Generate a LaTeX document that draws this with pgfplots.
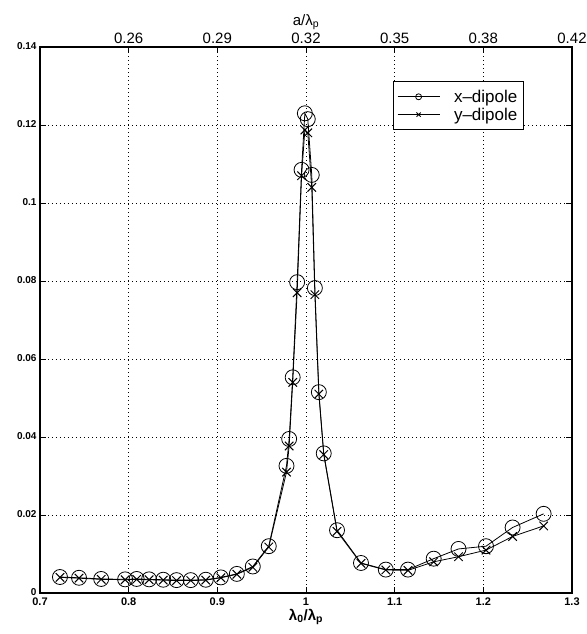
\documentclass[border=0pt]{standalone}
\usepackage{fontspec}
\setmainfont{Liberation Sans}
\usepackage{pgfplots}
\pgfplotsset{compat=1.18}
\usepackage{pgfplotstable}
\usetikzlibrary{calc}

\pgfplotstableread{
x y
0.7225 0.0041
0.744 0.0039
0.769 0.0036
0.796 0.0035
0.809 0.0036
0.823 0.0035
0.839 0.0034
0.854 0.0033
0.870 0.0033
0.887 0.0034
0.904 0.0040
0.922 0.0049
0.940 0.0068
0.958 0.0120
0.978 0.0326
0.981 0.0395
0.985 0.0553
0.990 0.0797
0.995 0.1085
0.9987 0.1230
1.002 0.1215
1.0065 0.1072
1.010 0.0782
1.0145 0.0515
1.020 0.0358
1.035 0.0161
1.062 0.0077
1.090 0.0060
1.115 0.0060
1.144 0.0088
1.172 0.0113
1.203 0.0120
1.233 0.0168
1.268 0.0203
}\xdip

\pgfplotstableread{
x y
0.7225 0.0040
0.744 0.0038
0.769 0.0035
0.796 0.0034
0.809 0.0035
0.823 0.0034
0.839 0.0033
0.854 0.0032
0.870 0.0032
0.887 0.0033
0.904 0.0039
0.922 0.0048
0.940 0.0066
0.958 0.0118
0.978 0.0310
0.981 0.0377
0.985 0.0540
0.990 0.0770
0.995 0.1070
0.9987 0.1187
1.002 0.1180
1.0065 0.1040
1.010 0.0765
1.0145 0.0510
1.020 0.0355
1.035 0.0158
1.062 0.0076
1.090 0.0059
1.115 0.0058
1.144 0.0080
1.172 0.0093
1.203 0.0110
1.233 0.0145
1.268 0.0172
}\ydip

\begin{document}
\begin{tikzpicture}
\begin{axis}[
  scale only axis, width=532pt, height=546pt,
  xmin=0.7, xmax=1.3, ymin=0, ymax=0.14,
  xtick={0.7,0.8,0.9,1.0,1.1,1.2,1.3},
  xticklabels={0.7,0.8,0.9,1,1.1,1.2,1.3},
  ytick={0,0.02,0.04,0.06,0.08,0.1,0.12,0.14},
  yticklabels={0,0.02,0.04,0.06,0.08,0.1,0.12,0.14},
  xtick pos=left, ytick pos=both, yticklabel pos=left,
  tick align=inside, major tick length=6pt,
  tick style={black, line width=0.8pt},
  grid=major, grid style={black, line width=0.7pt, dash pattern=on 0.8pt off 3.2pt},
  axis line style={black, line width=1.3pt},
  xticklabel style={font=\bfseries\fontsize{11}{11}\selectfont, yshift=-1pt},
  yticklabel style={font=\bfseries\fontsize{10}{10}\selectfont, yshift=1pt},
  xlabel={λ\textsubscript{0}/λ\textsubscript{p}},
  xlabel style={font=\bfseries\fontsize{15}{15}\selectfont, yshift=3pt},
  legend style={at={(0.663,0.937)}, anchor=north west, draw=black, line width=1pt,
    font=\fontsize{17}{17}\selectfont, inner xsep=4pt, inner ysep=6pt,
    row sep=0pt, column sep=12pt},
  legend cell align=left,
  legend image code/.code={%
    \draw[mark repeat=2,mark phase=2,#1,mark size=3pt] plot coordinates {(0pt,0pt) (21pt,0pt) (42pt,0pt)};},
  name=main,
]
\addplot[black, line width=0.8pt, mark=o, mark size=7.5pt, mark options={line width=0.8pt}] table {\xdip};
\addlegendentry{x--dipole}
\addplot[black, line width=0.8pt, mark=x, mark size=6pt, mark options={line width=1pt}] table {\ydip};
\addlegendentry{y--dipole}
\coordinate (bl) at (rel axis cs:0,0);
\coordinate (tr) at (rel axis cs:1,1);
\end{axis}
\begin{axis}[
  scale only axis, width=532pt, height=546pt,
  xmin=0.7, xmax=1.3, ymin=0, ymax=0.14,
  axis x line*=top, axis y line=none,
  xtick={0.8,0.9,1.0,1.1,1.2,1.3},
  xticklabels={0.26,0.29,0.32,0.35,0.38,0.42},
  tick align=inside, major tick length=6pt,
  tick style={black, line width=0.8pt},
  axis line style={black, line width=1.3pt},
  xticklabel style={font=\fontsize{15}{15}\selectfont},
  xlabel={a/λ\textsubscript{p}},
  xlabel style={font=\fontsize{15}{15}\selectfont, yshift=-4pt},
]
\end{axis}
\pgfresetboundingbox
\path ($(bl)+(-40pt,-41pt)$) rectangle ($(tr)+(15pt,47pt)$);
\end{tikzpicture}
\end{document}
